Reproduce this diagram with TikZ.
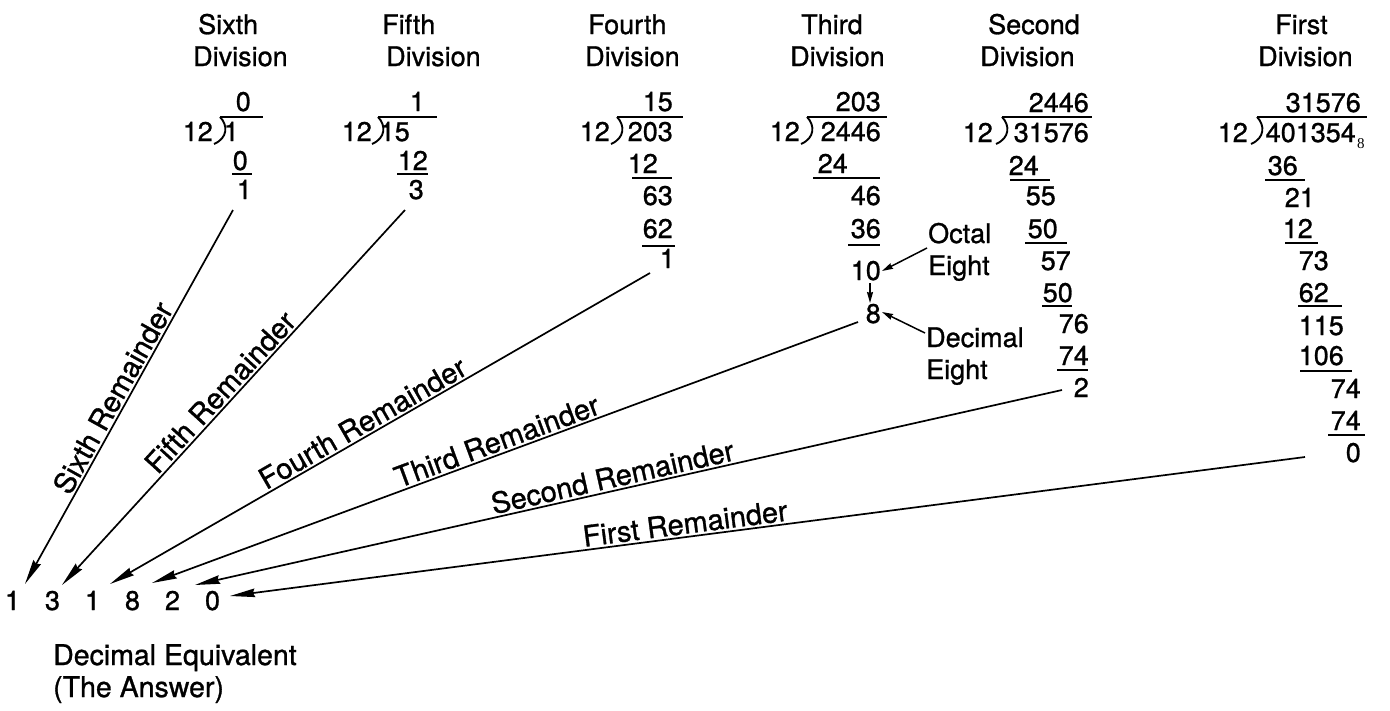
\documentclass[tikz,border=0pt]{standalone}
\usepackage{fontspec}
\setmainfont{TeX Gyre Heros}[FakeBold=1.0]
\newfontfamily\serifsub{Liberation Serif}
\usetikzlibrary{arrows.meta}
\begin{document}
\begin{tikzpicture}[x=1pt,y=-1pt,
  num/.style={font=\fontsize{27}{32}\selectfont, inner sep=0pt, anchor=base east},
  hd/.style={font=\fontsize{27}{32}\selectfont, inner sep=0pt, anchor=base west},
  bigtxt/.style={font=\fontsize{28.5}{33}\selectfont, inner sep=0pt, anchor=base west},
  ans/.style={font=\fontsize{27}{32}\selectfont, inner sep=0pt, anchor=base},
  rulebar/.style={line width=1.7pt},
  brk/.style={line width=1.9pt},
  remarrow/.style={line width=1.7pt, -{Stealth[length=25pt,width=8.5pt,inset=2pt]}},
  smallarrow/.style={line width=1.5pt, -{Stealth[length=11pt,width=6pt,inset=1pt]}},
  lab/.style={font=\fontsize{29}{34}\selectfont, sloped, above, inner sep=2pt}]
\useasboundingbox (0,0) rectangle (1390,710);

% ---------- headers ----------
\node[hd] (h6a) at (198,34) {Sixth};   \node[hd] (h6b) at (193,66) {Division};
\node[hd] (h5a) at (382,34) {Fifth};   \node[hd] (h5b) at (386,66) {Division};
\node[hd] (h4a) at (588,34) {Fourth};  \node[hd] (h4b) at (585,66) {Division};
\node[hd] (h3a) at (801,34) {Third};   \node[hd] (h3b) at (790,66) {Division};
\node[hd] (h2a) at (988,34) {Second};  \node[hd] (h2b) at (980,66) {Division};
\node[hd] (h1a) at (1275,34) {First};  \node[hd] (h1b) at (1258,66) {Division};

% ---------- sixth division ----------
\node[num] (a0) at (251,111) {0};
\node[num] (a1) at (213,141) {12};
\draw[brk] (220,117) .. controls (228,125) and (228,138) .. (214,144);
\draw[rulebar] (220,117) -- (263,117);
\node[num] (a2) at (239,141) {1};
\node[num] (a3) at (248,170) {0};
\draw[rulebar] (232,174) -- (252,174);
\node[num] (a4) at (252,199) {1};

% ---------- fifth division ----------
\node[num] (b0) at (425,111) {1};
\node[num] (b1) at (372,141) {12};
\draw[brk] (378,117) .. controls (386,125) and (386,138) .. (372,144);
\draw[rulebar] (378,117) -- (437,117);
\node[num] (b2) at (410,141) {15};
\node[num] (b3) at (428,170) {12};
\draw[rulebar] (397,174) -- (428,174);
\node[num] (b4) at (424,199) {3};

% ---------- fourth division ----------
\node[num] (c0) at (673,111) {15};
\node[num] (c1) at (610,141) {12};
\draw[brk] (617,117) .. controls (625,125) and (625,138) .. (611,144);
\draw[rulebar] (617,117) -- (683,117);
\node[num] (c2) at (673,141) {203};
\node[num] (c3) at (658,173) {12};
\draw[rulebar] (632,178) -- (672,178);
\node[num] (c4) at (673,205) {63};
\node[num] (c5) at (673,238) {62};
\draw[rulebar] (642,246) -- (675,246);
\node[num] (c6) at (675,268) {1};

% ---------- third division ----------
\node[num] (d0) at (881,111) {203};
\node[num] (d1) at (800,141) {12};
\draw[brk] (807,117) .. controls (815,125) and (815,138) .. (801,144);
\draw[rulebar] (807,117) -- (887,117);
\node[num] (d2) at (881,141) {2446};
\node[num] (d3) at (848,173) {24};
\draw[rulebar] (813,178) -- (880,178);
\node[num] (d4) at (881,205) {46};
\node[num] (d5) at (881,238) {36};
\draw[rulebar] (848,245) -- (880,245);
\node[num] (d6) at (881,280) {10};
\node[num] (d7) at (881,323) {8};
\coordinate (d6b) at (870,283);
\coordinate (d7t) at (870,303);
\draw[smallarrow] (d6b) -- (d7t);

% octal / decimal eight notes
\node[hd] (oct1) at (928,243) {Octal};
\node[hd] (oct2) at (928,275) {Eight};
\node[hd] (dec1) at (926,347) {Decimal};
\node[hd] (dec2) at (926,379) {Eight};
\coordinate (octs) at (927,248);
\coordinate (octe) at (882,271);
\coordinate (decs) at (925,333);
\coordinate (dece) at (882,312);
\draw[smallarrow] (octs) -- (octe);
\draw[smallarrow] (decs) -- (dece);

% ---------- second division ----------
\node[num] (e0) at (1089,112) {2446};
\node[num] (e1) at (993,142) {12};
\draw[brk] (1002,117) .. controls (1010,125) and (1010,138) .. (996,144);
\draw[rulebar] (1002,117) -- (1092,117);
\node[num] (e2) at (1089,142) {31576};
\node[num] (e3) at (1039,175) {24};
\draw[rulebar] (1010,180) -- (1050,180);
\node[num] (e4) at (1056,205) {55};
\node[num] (e5) at (1058,238) {50};
\draw[rulebar] (1025,243) -- (1067,243);
\node[num] (e6) at (1071,270) {57};
\node[num] (e7) at (1073,302) {50};
\draw[rulebar] (1042,306) -- (1072,306);
\node[num] (e8) at (1089,333) {76};
\node[num] (e9) at (1089,365) {74};
\draw[rulebar] (1057,370) -- (1088,370);
\node[num] (e10) at (1089,397) {2};

% ---------- first division ----------
\node[num] (f0) at (1361,112) {31576};
\node[num] (f1) at (1248,142) {12};
\draw[brk] (1257,117) .. controls (1265,125) and (1265,138) .. (1251,144);
\draw[rulebar] (1257,117) -- (1367,117);
\node[num] (f2) at (1356,142) {401354};
\node[inner sep=0pt, anchor=base west, font=\serifsub\fontsize{15}{18}\selectfont] (f2s) at (1357,148) {8};
\node[num] (f3) at (1298,175) {36};
\draw[rulebar] (1265,180) -- (1305,180);
\node[num] (f4) at (1315,207) {21};
\node[num] (f5) at (1313,238) {12};
\draw[rulebar] (1285,243) -- (1318,243);
\node[num] (f6) at (1329,270) {73};
\node[num] (f7) at (1329,302) {62};
\draw[rulebar] (1298,306) -- (1342,306);
\node[num] (f8) at (1344,335) {115};
\node[num] (f9) at (1344,365) {106};
\draw[rulebar] (1300,371) -- (1352,371);
\node[num] (f10) at (1361,398) {74};
\node[num] (f11) at (1361,430) {74};
\draw[rulebar] (1328,435) -- (1365,435);
\node[num] (f12) at (1361,462) {0};

% ---------- answer ----------
\node[ans] (r6) at (12.5,610) {1};
\node[ans] (r5) at (52.5,610) {3};
\node[ans] (r4) at (92.5,610) {1};
\node[ans] (r3) at (132.5,610) {8};
\node[ans] (r2) at (172.5,610) {2};
\node[ans] (r1) at (212.5,610) {0};
\node[bigtxt] (eq1) at (53,665) {Decimal Equivalent};
\node[bigtxt] (eq2) at (53,697) {(The Answer)};

% ---------- remainder arrows ----------
\coordinate (s6) at (233,210); \coordinate (t6) at (25,584);
\coordinate (s5) at (405,210); \coordinate (t5) at (62,585);
\coordinate (s4) at (650,273); \coordinate (t4) at (110,584);
\coordinate (s3) at (858,322); \coordinate (t3) at (152,583);
\coordinate (s2) at (1062,390); \coordinate (t2) at (195,585);
\coordinate (s1) at (1305,457); \coordinate (t1) at (230,596);
\draw[remarrow] (s6) -- node[lab, pos=0.52] {Sixth Remainder} (t6);
\draw[remarrow] (s5) -- node[lab, pos=0.51] {Fifth Remainder} (t5);
\draw[remarrow] (s4) -- node[lab, pos=0.52] {Fourth Remainder} (t4);
\draw[remarrow] (s3) -- node[lab, pos=0.505] {Third Remainder} (t3);
\draw[remarrow] (s2) -- node[lab, pos=0.515] {Second Remainder} (t2);
\draw[remarrow] (s1) -- node[lab, pos=0.575] {First Remainder} (t1);
\end{tikzpicture}
\end{document}
